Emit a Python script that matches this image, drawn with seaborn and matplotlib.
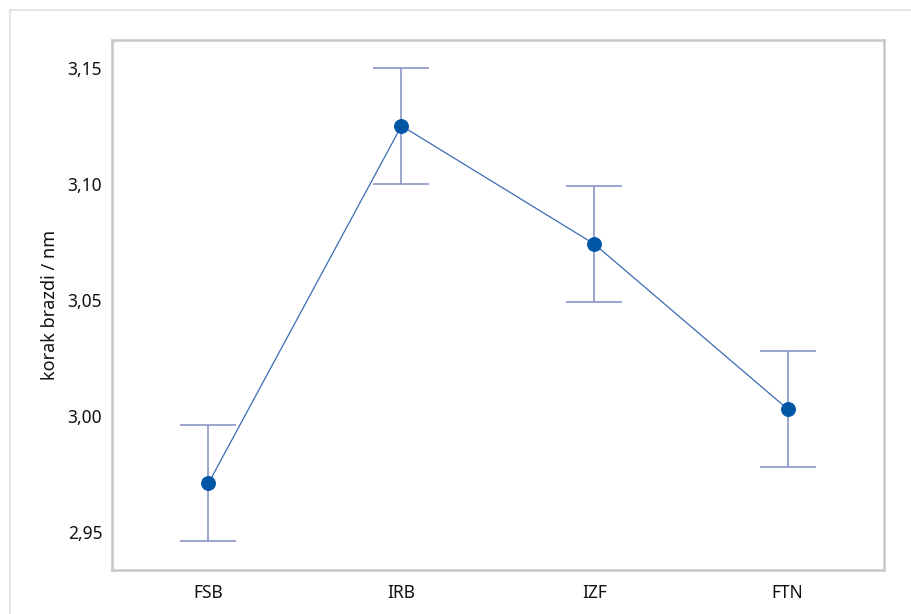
import numpy as np
import pandas as pd
import matplotlib
matplotlib.use("Agg")
import matplotlib.pyplot as plt
from matplotlib.lines import Line2D
from matplotlib.ticker import FuncFormatter
import seaborn as sns

# data
groups = ["FSB", "IRB", "IZF", "FTN"]
means = [2.971, 3.125, 3.074, 3.003]
lower = [2.946, 3.100, 3.049, 2.978]
upper = [2.996, 3.150, 3.099, 3.028]
y_ticks = [2.95, 3.00, 3.05, 3.10, 3.15]

df = pd.DataFrame({"group": groups, "mean": means})

sns.set_style("white")
plt.rcParams["font.family"] = ["Noto Sans", "DejaVu Sans"]

fig = plt.figure(figsize=(9.12, 6.14), dpi=100)
ax = fig.add_axes([0.1228, 0.0717, 0.8465, 0.8632])

# means connected
sns.pointplot(data=df, x="group", y="mean", order=groups, errorbar=None,
              color="#3a6cb4", markers="o", linestyles="-", ax=ax,
              linewidth=0.9, markersize=10, zorder=3)
for ln in ax.lines:
    ln.set_markerfacecolor("#0055a5")
    ln.set_markeredgecolor("#0055a5")

# interval bars
pos = np.arange(len(groups))
m = np.array(means)
yerr = np.vstack([m - np.array(lower), np.array(upper) - m])
ax.errorbar(pos, m, yerr=yerr, fmt="none", ecolor="#8a94c8",
            elinewidth=1.2, capsize=20.5, capthick=1.2, zorder=1)

ax.set_xlim(-0.5, 3.5)
ax.set_ylim(2.9336, 3.162)
ax.set_yticks(y_ticks)
ax.yaxis.set_major_formatter(FuncFormatter(lambda v, p: f"{v:.2f}".replace(".", ",")))
ax.set_xlabel("")
ax.set_ylabel("korak brazdi / nm", fontsize=13, labelpad=6, color="#111111")

for s in ax.spines.values():
    s.set_visible(True)
    s.set_color("#c8c8c8")
    s.set_linewidth(1.8)
ax.tick_params(axis="both", direction="out", length=4, width=1,
               color="#b0b0b0", labelsize=12.5, labelcolor="#111111")
ax.tick_params(axis="y", pad=3)
ax.tick_params(axis="x", pad=6)

# outer frame lines (top/left visible in the reference)
fig.add_artist(Line2D([10 / 912, 1.0], [1 - 10 / 614, 1 - 10 / 614],
                      color="#e0e0e0", linewidth=1.2))
fig.add_artist(Line2D([10 / 912, 10 / 912], [0.0, 1 - 10 / 614],
                      color="#e0e0e0", linewidth=1.2))

fig.savefig("out.png", dpi=100)
